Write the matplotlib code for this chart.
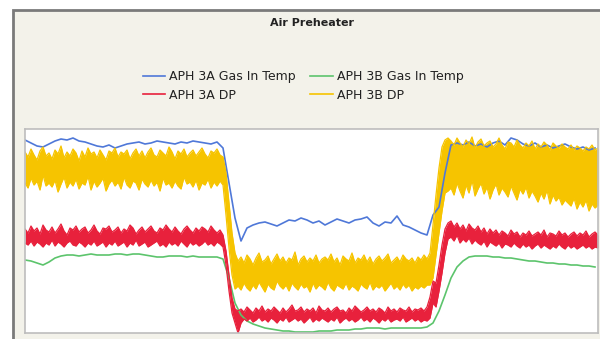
import numpy as np
import matplotlib
matplotlib.use("Agg")
import matplotlib.pyplot as plt
from matplotlib.patches import Rectangle
from matplotlib.lines import Line2D

# fast-sampled DP series: upper / lower envelope of the noisy trace (192 samples)
aph3b_dp_hi = [
    181, 176, 184, 178, 173, 182, 186, 177, 180, 174,
    183, 179, 187, 175, 181, 177, 184, 180, 172, 182,
    176, 185, 179, 181, 175, 183, 178, 173, 182, 180,
    185, 176, 181, 179, 183, 174, 180, 184, 177, 182,
    175, 181, 185, 178, 176, 183, 180, 177, 186, 181,
    174, 182, 179, 184, 176, 180, 183, 177, 181, 185,
    179, 175, 182, 180, 184, 178,
    176, 160, 130, 100, 80,
    72, 76, 70, 78, 74, 68, 75, 80, 71, 73,
    77, 69, 74, 79, 72, 76, 70, 75, 73, 81,
    68, 74, 77, 71, 75, 72, 78, 70, 74, 76,
    73, 79, 71, 75, 68, 77, 74, 72, 80, 70,
    75, 73, 78, 71, 76, 69, 74, 77, 72, 75,
    79, 70, 73, 76, 71, 78, 74, 72, 75, 70,
    76, 73, 78, 74,
    80, 108, 138, 165, 186, 193, 195,
    192, 188, 195, 190, 186, 193, 189, 196, 185, 191,
    194, 187, 190, 192, 186, 189, 195, 188, 184, 191,
    190, 186, 193, 188, 185, 190, 187, 192, 184, 189,
    186, 191, 188, 183, 190, 187, 185, 189, 186, 184,
    188, 183, 187, 185, 182, 186, 184, 188, 183, 185,
]
aph3b_dp_lo = [
    150, 145, 155, 148, 152, 143, 158, 147, 150, 146,
    153, 141, 149, 156, 145, 151, 147, 154, 144, 150,
    148, 157, 143, 152, 146, 150, 155, 142, 149, 153,
    147, 151, 144, 156, 148, 145, 152, 150, 143, 154,
    149, 146, 153, 147, 151, 142, 155, 148, 150, 145,
    152, 147, 144, 156, 149, 151, 146, 153, 143, 150,
    148, 154, 145, 151, 147, 152,
    148, 118, 85, 58, 44,
    47, 43, 50, 45, 42, 48, 44, 51, 46, 41,
    49, 45, 43, 52, 47, 44, 48, 42, 50, 46,
    43, 49, 45, 47, 41, 50, 44, 48, 46, 43,
    51, 45, 42, 48, 46, 44, 50, 43, 47, 45,
    42, 49, 46, 44, 51, 43, 47, 45, 48, 42,
    46, 50, 44, 47, 43, 49, 45, 48, 42, 46,
    44, 47, 45, 48,
    48, 55, 78, 100, 122, 140, 142,
    145, 138, 150, 142, 135, 148, 140, 153, 137, 144,
    150, 139, 146, 134, 143, 149, 138, 145, 141, 136,
    147, 140, 133, 144, 139, 146, 135, 142, 137, 131,
    140, 134, 143, 129, 138, 132, 136, 128, 133, 130,
    127, 135, 124, 131, 126, 133, 122, 129, 125, 128,
]

aph3a_dp_hi = [
    104, 100, 107, 102, 105, 99, 108, 103, 101, 106,
    100, 104, 109, 102, 98, 105, 103, 107, 101, 104,
    106, 100, 103, 108, 102, 99, 105, 104, 107, 101,
    103, 106, 100, 104, 102, 108, 105, 99, 103, 106,
    101, 104, 107, 102, 100, 105, 103, 108, 104, 101,
    106, 102, 99, 104, 107, 103, 100, 105, 102, 106,
    104, 101, 107, 103, 100, 103,
    98, 82, 58, 35, 24,
    22, 24, 21, 26, 23, 20, 25, 22, 27, 21,
    24, 22, 26, 23, 20, 25, 21, 24, 28, 22,
    23, 26, 21, 24, 22, 25, 20, 27, 23, 22,
    25, 21, 24, 26, 22, 23, 20, 25, 22, 27,
    24, 21, 23, 26, 22, 24, 21, 25, 23, 20,
    26, 22, 24, 21, 25, 23, 22, 26, 21, 24,
    23, 25, 22, 26,
    36, 52, 50, 68, 88, 104, 110,
    112, 106, 110, 104, 108, 102, 109, 105, 103, 107,
    101, 105, 99, 104, 100, 103, 98, 102, 100, 97,
    103, 99, 101, 96, 100, 98, 102, 97, 99, 101,
    98, 103, 96, 100, 99, 97, 102, 98, 100, 96,
    99, 101, 97, 100, 98, 102, 96, 99, 101, 98,
]
aph3a_dp_lo = [
    90, 88, 92, 87, 91, 89, 86, 90, 88, 93,
    87, 91, 89, 86, 90, 92, 88, 87, 91, 89,
    86, 90, 88, 92, 87, 89, 91, 86, 90, 88,
    92, 87, 89, 91, 86, 90, 88, 93, 87, 89,
    91, 86, 88, 90, 92, 87, 89, 86, 91, 88,
    90, 87, 92, 89, 86, 91, 88, 90, 87, 89,
    92, 88, 90, 87, 91, 89,
    86, 68, 42, 20, 10,
    0, 10, 14, 12, 15, 11, 13, 16, 12, 14,
    11, 15, 13, 10, 14, 12, 16, 11, 13, 15,
    12, 14, 10, 13, 16, 11, 14, 12, 15, 13,
    11, 14, 12, 16, 10, 13, 15, 12, 14, 11,
    13, 16, 12, 14, 11, 15, 13, 10, 14, 12,
    15, 11, 13, 14, 12, 16, 11, 13, 15, 12,
    14, 11, 13, 12,
    15, 30, 26, 42, 60, 80, 94,
    96, 92, 98, 90, 94, 91, 95, 89, 93, 90,
    88, 92, 86, 91, 89, 87, 90, 85, 89, 88,
    86, 90, 87, 85, 89, 86, 88, 84, 87, 89,
    85, 88, 86, 84, 87, 85, 89, 86, 84, 88,
    85, 87, 84, 86, 88, 85, 87, 84, 86, 85,
]

# slow-sampled temperature series (every 2nd sample, 96 values)
aph3a_gas_in = [
    193, 190, 187, 186, 189, 192, 194, 193, 195, 192,
    191, 189, 187, 186, 188, 185, 187, 189, 190, 191,
    189, 190, 192, 191, 190, 189, 191, 190, 192, 191,
    190, 189, 191,
    185, 150, 115, 92, 105, 108, 110, 111, 109, 107,
    110, 113, 112, 115, 113, 110, 112, 108, 111, 114,
    112, 110, 113, 114, 116, 110, 107, 111, 110, 117,
    108, 106, 103, 100, 98, 118, 126, 160, 188,
    190, 188, 191, 187, 189, 186, 190, 192, 188, 195,
    193, 189, 187, 190, 186, 188, 185, 187, 189, 186,
    184, 186, 183, 185,
]

aph3b_gas_in = [
    73, 72, 70, 68, 71, 75, 77, 78, 78, 77,
    78, 79, 78, 78, 78, 79, 79, 78, 79, 79,
    78, 77, 76, 76, 77, 77, 77, 76, 77, 76,
    76, 76, 76,
    74, 55, 30, 18, 12, 9, 7, 5, 4, 3,
    2, 2, 1, 1, 1, 1, 2, 2, 2, 3,
    3, 3, 4, 4, 5, 5, 5, 4, 5, 5,
    5, 5, 5, 5, 6, 10, 22, 38, 55,
    66, 72, 76, 77, 77, 77, 76, 76, 75, 75,
    74, 73, 72, 72, 71, 70, 70, 69, 69, 68,
    68, 67, 67, 66,
]

labels = ["APH 3A Gas In Temp", "APH 3B Gas In Temp", "APH 3A DP", "APH 3B DP"]
colors = ["#4f78d8", "#5cc46c", "#e8213c", "#f6c400"]

t_fast = np.arange(len(aph3a_dp_hi))
t_slow = np.arange(len(aph3a_gas_in)) * 2

fig = plt.figure(figsize=(6, 3.39), dpi=100)
fig.patch.set_facecolor("white")

# outer panel
fig.patches.append(Rectangle((13 / 600, -0.05), 1.0, 1 - 10 / 339 + 0.05,
                             transform=fig.transFigure, facecolor="#f3f2ea",
                             edgecolor="#7a7a7a", linewidth=2, zorder=-10))

fig.text(312 / 600, 1 - 23 / 339, "Air Preheater", ha="center", va="center",
         fontsize=8, fontweight="bold", color="#222222")

ax = fig.add_axes([25 / 600, 1 - 333 / 339, 573 / 600, 204 / 339])
ax.set_zorder(5)
ax.set_facecolor("white")
ax.plot(t_slow, aph3a_gas_in, color=colors[0], lw=1.2)
ax.plot(t_slow, aph3b_gas_in, color=colors[1], lw=1.2)
for hi, lo, c in [(aph3a_dp_hi, aph3a_dp_lo, colors[2]),
                  (aph3b_dp_hi, aph3b_dp_lo, colors[3])]:
    ax.fill_between(t_fast, lo, hi, color=c, lw=0)
    ax.plot(t_fast, hi, color=c, lw=0.9)
    ax.plot(t_fast, lo, color=c, lw=0.9)
ax.set_xlim(0, len(t_fast) - 1)
ax.set_ylim(0, 204)
ax.set_xticks([])
ax.set_yticks([])
for s in ax.spines.values():
    s.set_color("#bdbdbd")
    s.set_linewidth(1.2)

handles = [Line2D([], [], color=colors[i], lw=1.2) for i in range(4)]
order = [0, 2, 1, 3]
fig.legend([handles[i] for i in order], [labels[i] for i in order],
           loc="center", bbox_to_anchor=(303 / 600, 1 - 86 / 339), ncol=2,
           frameon=False, fontsize=9, handlelength=1.8, handletextpad=0.3,
           columnspacing=1.2, labelspacing=0.45, labelcolor="#222222")

fig.savefig("out.png", dpi=100, facecolor=fig.get_facecolor())
